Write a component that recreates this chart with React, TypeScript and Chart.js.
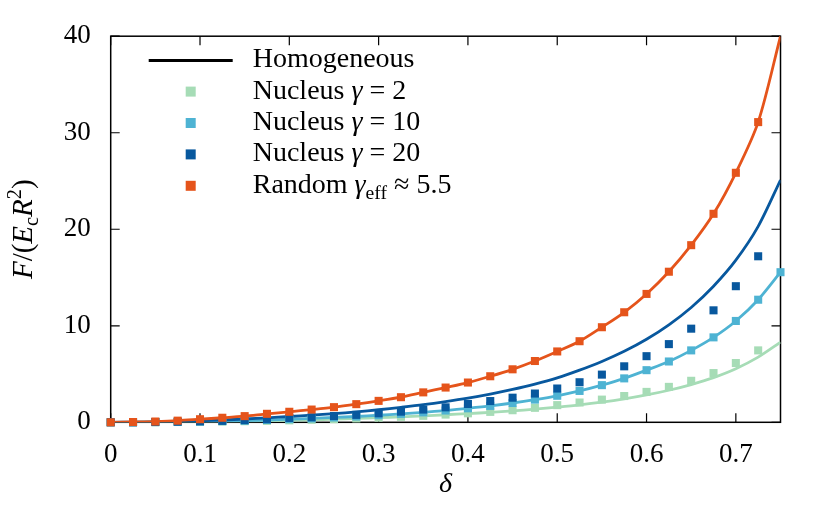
import { useEffect, useRef } from 'react';
import { Chart, registerables } from 'chart.js';
import type { Plugin } from 'chart.js';

Chart.register(...registerables);

// delta values of the sampled points
const deltaGrid = [
  0, 0.025, 0.05, 0.075, 0.1, 0.125, 0.15, 0.175, 0.2, 0.225, 0.25, 0.275, 0.3, 0.325, 0.35, 0.375,
  0.4, 0.425, 0.45, 0.475, 0.5, 0.525, 0.55, 0.575, 0.6, 0.625, 0.65, 0.675, 0.7, 0.725, 0.75,
];

// homogeneous curves (solid lines)
const homGamma2 = [
  0, 0, 0.01, 0.03, 0.05, 0.07, 0.11, 0.15, 0.2, 0.26, 0.32, 0.4, 0.48, 0.57, 0.67, 0.78,
  0.9, 1.03, 1.18, 1.36, 1.57, 1.8, 2.08, 2.42, 2.83, 3.32, 3.91, 4.63, 5.55, 6.75, 8.3,
];
const homGamma10 = [
  0, 0, 0.02, 0.05, 0.08, 0.12, 0.17, 0.24, 0.32, 0.4, 0.5, 0.6, 0.73, 0.87, 1.03, 1.22,
  1.45, 1.7, 2.0, 2.35, 2.75, 3.25, 3.85, 4.55, 5.4, 6.3, 7.45, 8.8, 10.5, 12.7, 15.55,
];
const homGamma20 = [
  0, 0.01, 0.04, 0.09, 0.16, 0.24, 0.34, 0.46, 0.6, 0.75, 0.9, 1.08, 1.3, 1.55, 1.82, 2.14,
  2.5, 2.92, 3.4, 3.95, 4.6, 5.4, 6.3, 7.35, 8.6, 10.1, 11.9, 14.1, 16.8, 20.3, 25.1,
];
const homRandom = [
  0, 0.03, 0.08, 0.17, 0.32, 0.47, 0.64, 0.88, 1.09, 1.32, 1.57, 1.88, 2.22, 2.6, 3.1, 3.6,
  4.12, 4.77, 5.49, 6.35, 7.34, 8.4, 9.85, 11.4, 13.3, 15.6, 18.35, 21.6, 25.85, 31.1, 40,
];

// simulation points (squares)
const nucleusGamma2 = [
  0, 0, 0.01, 0.03, 0.05, 0.08, 0.11, 0.15, 0.2, 0.26, 0.32, 0.4, 0.48, 0.57, 0.67, 0.8,
  0.93, 1.08, 1.25, 1.5, 1.78, 2.05, 2.35, 2.72, 3.15, 3.67, 4.3, 5.1, 6.14, 7.45,
];
const nucleusGamma10 = [
  0, 0, 0.02, 0.05, 0.08, 0.12, 0.17, 0.24, 0.32, 0.4, 0.5, 0.6, 0.73, 0.87, 1.03, 1.22,
  1.45, 1.7, 2.0, 2.35, 2.75, 3.25, 3.85, 4.55, 5.4, 6.3, 7.45, 8.8, 10.5, 12.7, 15.55,
];
const nucleusGamma20 = [
  0, 0, 0.03, 0.06, 0.1, 0.15, 0.22, 0.32, 0.45, 0.52, 0.65, 0.77, 0.93, 1.1, 1.32, 1.55,
  1.9, 2.2, 2.55, 2.98, 3.5, 4.15, 4.94, 5.8, 6.85, 8.1, 9.7, 11.6, 14.1, 17.2,
];
const randomGammaEff = [
  0, 0.03, 0.08, 0.17, 0.32, 0.47, 0.64, 0.88, 1.09, 1.32, 1.57, 1.88, 2.22, 2.6, 3.1, 3.6,
  4.12, 4.77, 5.49, 6.35, 7.34, 8.4, 9.85, 11.4, 13.3, 15.6, 18.35, 21.6, 25.85, 31.1,
];

const xTicks = [0, 0.1, 0.2, 0.3, 0.4, 0.5, 0.6, 0.7];
const yTicks = [0, 10, 20, 30, 40];

const GREEN = '#a6dcb6';
const LIGHT_BLUE = '#4eb3d3';
const DARK_BLUE = '#08589e';
const ORANGE = '#e5541b';
const FONT = '"Liberation Serif", "DejaVu Serif", serif';

type Seg = { t: string; it?: boolean; sub?: boolean; sup?: boolean };

const toPoints = (ys: number[]) => ys.map((y, i) => ({ x: deltaGrid[i], y }));

function richWidth(ctx: CanvasRenderingContext2D, segs: Seg[], size: number) {
  let w = 0;
  for (const s of segs) {
    const fs = s.sub || s.sup ? size * 0.7 : size;
    ctx.font = `${s.it ? 'italic ' : ''}${fs}px ${FONT}`;
    w += ctx.measureText(s.t).width;
  }
  return w;
}

function drawRich(ctx: CanvasRenderingContext2D, segs: Seg[], x: number, y: number, size: number) {
  let cx = x;
  for (const s of segs) {
    const fs = s.sub || s.sup ? size * 0.7 : size;
    ctx.font = `${s.it ? 'italic ' : ''}${fs}px ${FONT}`;
    const dy = s.sub ? size * 0.22 : s.sup ? -size * 0.38 : 0;
    ctx.fillText(s.t, cx, y + dy);
    cx += ctx.measureText(s.t).width;
  }
}

const legendRows: { segs: Seg[]; color: string; line?: boolean }[] = [
  { segs: [{ t: 'Homogeneous' }], color: '#000', line: true },
  { segs: [{ t: 'Nucleus ' }, { t: 'γ', it: true }, { t: ' = 2' }], color: GREEN },
  { segs: [{ t: 'Nucleus ' }, { t: 'γ', it: true }, { t: ' = 10' }], color: LIGHT_BLUE },
  { segs: [{ t: 'Nucleus ' }, { t: 'γ', it: true }, { t: ' = 20' }], color: DARK_BLUE },
  { segs: [{ t: 'Random ' }, { t: 'γ', it: true }, { t: 'eff', sub: true }, { t: ' ≈ 5.5' }], color: ORANGE },
];

const yTitle: Seg[] = [
  { t: 'F', it: true }, { t: '/(' }, { t: 'E', it: true }, { t: 'c', sub: true },
  { t: 'R', it: true }, { t: '2', sup: true }, { t: ')' },
];

const framePlugin: Plugin = {
  id: 'frame',
  beforeDatasetsDraw(chart) {
    const { ctx, chartArea: a, scales } = chart;
    ctx.save();
    ctx.strokeStyle = '#000';
    ctx.lineWidth = 1.2;
    const tl = 9;
    for (const v of xTicks) {
      const px = scales.x.getPixelForValue(v);
      ctx.beginPath();
      ctx.moveTo(px, a.bottom);
      ctx.lineTo(px, a.bottom - tl);
      ctx.moveTo(px, a.top);
      ctx.lineTo(px, a.top + tl);
      ctx.stroke();
    }
    for (const v of yTicks) {
      const py = scales.y.getPixelForValue(v);
      ctx.beginPath();
      ctx.moveTo(a.left, py);
      ctx.lineTo(a.left + tl, py);
      ctx.moveTo(a.right, py);
      ctx.lineTo(a.right - tl, py);
      ctx.stroke();
    }
    ctx.lineWidth = 1.5;
    ctx.strokeRect(a.left, a.top, a.right - a.left, a.bottom - a.top);
    ctx.restore();
  },
  afterDraw(chart) {
    const { ctx, chartArea: a } = chart;
    ctx.save();
    ctx.fillStyle = '#000';
    ctx.textBaseline = 'alphabetic';
    const size = 28;
    legendRows.forEach((row, i) => {
      const base = a.top + 31 + i * 31.4;
      if (row.line) {
        ctx.strokeStyle = row.color;
        ctx.lineWidth = 3;
        ctx.beginPath();
        ctx.moveTo(a.left + 38, base - 6.7);
        ctx.lineTo(a.left + 122, base - 6.7);
        ctx.stroke();
      } else {
        ctx.fillStyle = row.color;
        ctx.fillRect(a.left + 80 - 5, base - 7 - 5, 10, 10);
      }
      ctx.fillStyle = '#000';
      drawRich(ctx, row.segs, a.left + 142, base, size);
    });

    // y axis title
    const w = richWidth(ctx, yTitle, 29);
    ctx.translate(32, (a.top + a.bottom) / 2);
    ctx.rotate(-Math.PI / 2);
    drawRich(ctx, yTitle, -w / 2, 0, 29);
    ctx.restore();
  },
};

export default function App() {
  const canvasRef = useRef<HTMLCanvasElement>(null);
  const chartRef = useRef<Chart | null>(null);

  useEffect(() => {
    if (!canvasRef.current) return;
    if (chartRef.current) chartRef.current.destroy();

    const lineDs = (label: string, ys: number[], color: string, order: number) => ({
      label,
      data: toPoints(ys),
      showLine: true,
      borderColor: color,
      backgroundColor: color,
      borderWidth: 2.8,
      pointRadius: 0,
      tension: 0.3,
      order,
    });
    const markerDs = (label: string, ys: number[], color: string, order: number) => ({
      label,
      data: toPoints(ys),
      showLine: false,
      pointStyle: 'rect' as const,
      pointRadius: 5.7,
      pointBorderWidth: 0,
      borderWidth: 0,
      backgroundColor: color,
      borderColor: color,
      clip: false as const,
      order,
    });

    chartRef.current = new Chart(canvasRef.current, {
      type: 'scatter',
      data: {
        datasets: [
          markerDs('Random γeff ≈ 5.5', randomGammaEff, ORANGE, 1),
          lineDs('Homogeneous random', homRandom, ORANGE, 2),
          markerDs('Nucleus γ = 20', nucleusGamma20, DARK_BLUE, 3),
          markerDs('Nucleus γ = 10', nucleusGamma10, LIGHT_BLUE, 4),
          markerDs('Nucleus γ = 2', nucleusGamma2, GREEN, 5),
          lineDs('Homogeneous γ = 20', homGamma20, DARK_BLUE, 6),
          lineDs('Homogeneous γ = 10', homGamma10, LIGHT_BLUE, 7),
          lineDs('Homogeneous γ = 2', homGamma2, GREEN, 8),
        ],
      },
      options: {
        animation: false,
        responsive: true,
        maintainAspectRatio: false,
        layout: { padding: { left: 0, right: 50.5, top: 34, bottom: 0 } },
        plugins: {
          legend: { display: false },
          tooltip: { enabled: false },
        },
        scales: {
          x: {
            type: 'linear',
            min: 0,
            max: 0.75,
            afterBuildTicks: (scale) => {
              scale.ticks = xTicks.map((value) => ({ value }));
            },
            afterFit: (scale) => {
              scale.height = 83.7;
            },
            grid: { display: false, drawTicks: false },
            border: { display: false },
            ticks: {
              color: '#000',
              padding: 16,
              font: { family: FONT, size: 27 },
              callback: (v) => (Number(v) === 0 ? '0' : Number(v).toFixed(1)),
            },
            title: {
              display: true,
              text: 'δ',
              color: '#000',
              font: { family: FONT, size: 28, style: 'italic' },
              padding: { top: 0, bottom: 5 },
            },
          },
          y: {
            type: 'linear',
            min: 0,
            max: 40,
            afterBuildTicks: (scale) => {
              scale.ticks = yTicks.map((value) => ({ value }));
            },
            afterFit: (scale) => {
              scale.width = 110.7;
            },
            grid: { display: false, drawTicks: false },
            border: { display: false },
            ticks: {
              color: '#000',
              padding: 20,
              font: { family: FONT, size: 27 },
            },
          },
        },
      },
      plugins: [framePlugin],
    });

    return () => {
      if (chartRef.current) {
        chartRef.current.destroy();
        chartRef.current = null;
      }
    };
  }, []);

  return (
    <div style={{ position: 'absolute', left: 0, top: 0, width: 831, height: 506, background: '#fff' }}>
      <canvas ref={canvasRef} />
    </div>
  );
}
